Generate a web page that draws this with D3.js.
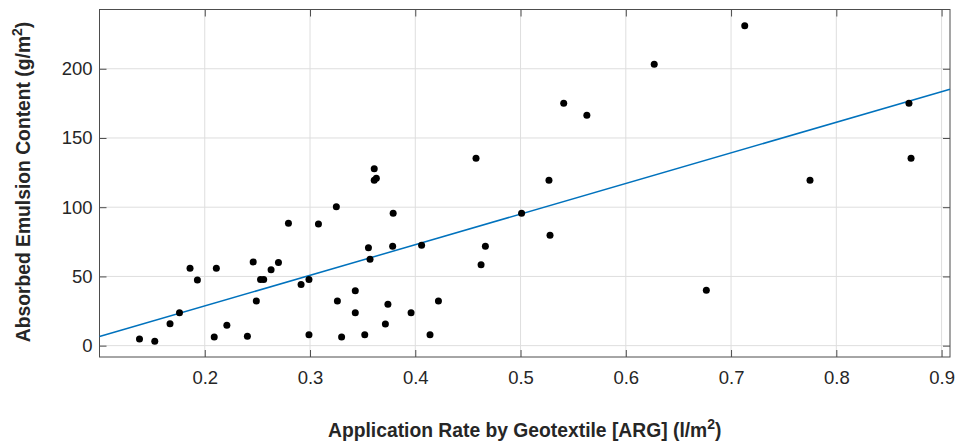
<!DOCTYPE html>
<html lang="en">
<head>
<meta charset="UTF-8">
<title>ARG scatter</title>
<style>
  body { margin: 0; background: #fff; }
  text { font-family: "Liberation Sans", Arial, sans-serif; }
  .tick-label { font-size: 18.5px; fill: #262626; }
  .axis-title { font-size: 19.3px; font-weight: bold; fill: #262626; }
</style>
</head>
<body>
<div id="chart"></div>
<script src="https://cdn.jsdelivr.net/npm/d3@7"></script>
<script>
// application rate (l/m2) and absorbed emulsion (g/m2)
let argRate = [0.138, 0.1525, 0.167, 0.176, 0.186, 0.193, 0.209, 0.211, 0.221, 0.2405,
  0.246, 0.249, 0.253, 0.256, 0.263, 0.270, 0.2795, 0.2915, 0.299, 0.299,
  0.308, 0.325, 0.326, 0.330, 0.343, 0.343, 0.352, 0.3555, 0.357, 0.361,
  0.361, 0.363, 0.3716, 0.374, 0.3785, 0.379, 0.396, 0.406, 0.414, 0.422,
  0.4577, 0.4625, 0.4666, 0.501, 0.527, 0.528, 0.541, 0.563, 0.627, 0.6765,
  0.713, 0.775, 0.869, 0.871]
let emulsion = [4.8, 3.2, 15.9, 23.8, 55.9, 47.5, 6.3, 55.9, 14.7, 6.8,
  60.5, 32.3, 47.7, 47.7, 54.9, 60.0, 88.4, 44.1, 47.7, 7.9,
  87.9, 100.4, 32.3, 6.3, 39.7, 23.8, 7.9, 70.8, 62.4, 127.7,
  119.5, 121.0, 15.7, 29.9, 71.8, 95.7, 23.8, 72.5, 7.9, 32.3,
  135.4, 58.5, 71.8, 95.7, 119.5, 79.8, 175.1, 166.5, 203.3, 40.0,
  231.0, 119.5, 175.1, 135.4]
let xTicks = [0.2, 0.3, 0.4, 0.5, 0.6, 0.7, 0.8, 0.9]
let yTicks = [0, 50, 100, 150, 200]
let xLimits = [0.1, 0.908]
let yLimits = [-8.2, 242.8]

let width = 957
let height = 444
let margin = { left: 99.5, top: 9.5, right: 7, bottom: 87 }
let innerW = width - margin.left - margin.right
let innerH = height - margin.top - margin.bottom
let boxColor = '#4d4d4d'
let gridColor = '#dedede'
let fitColor = '#0072BD'

let svg = d3.select('#chart').append('svg').attr('width', width).attr('height', height)
let g = svg.append('g').attr('transform', 'translate(' + margin.left + ',' + margin.top + ')')

let x = d3.scaleLinear().domain(xLimits).range([0, innerW])
let y = d3.scaleLinear().domain(yLimits).range([innerH, 0])

// grid
g.append('g').selectAll('line').data(xTicks).join('line')
  .attr('x1', d => x(d)).attr('x2', d => x(d)).attr('y1', 0).attr('y2', innerH)
  .attr('stroke', gridColor)
g.append('g').selectAll('line').data(yTicks).join('line')
  .attr('x1', 0).attr('x2', innerW).attr('y1', d => y(d)).attr('y2', d => y(d))
  .attr('stroke', gridColor)

// axes, ticks pointing inward on all four sides
let tickLen = 7
function styleAxis(sel) {
  sel.select('.domain').remove()
  sel.selectAll('.tick line').attr('stroke', boxColor)
  sel.selectAll('.tick text').attr('class', 'tick-label').attr('font-family', null).attr('font-size', null)
}
g.append('g').attr('transform', 'translate(0,' + innerH + ')')
  .call(d3.axisBottom(x).tickValues(xTicks).tickSizeInner(-tickLen).tickSizeOuter(0).tickPadding(14).tickFormat(d3.format('.1f')))
  .call(styleAxis)
g.append('g')
  .call(d3.axisTop(x).tickValues(xTicks).tickSizeInner(-tickLen).tickSizeOuter(0).tickFormat(''))
  .call(styleAxis)
g.append('g')
  .call(d3.axisLeft(y).tickValues(yTicks).tickSizeInner(-tickLen).tickSizeOuter(0).tickPadding(7))
  .call(styleAxis)
g.append('g').attr('transform', 'translate(' + innerW + ',0)')
  .call(d3.axisRight(y).tickValues(yTicks).tickSizeInner(-tickLen).tickSizeOuter(0).tickFormat(''))
  .call(styleAxis)

// box
g.append('rect').attr('width', innerW).attr('height', innerH)
  .attr('fill', 'none').attr('stroke', boxColor).attr('stroke-width', 1)

// least squares fit line from the data
let mx = d3.mean(argRate)
let my = d3.mean(emulsion)
let sxy = d3.sum(argRate, (v, i) => (v - mx) * (emulsion[i] - my))
let sxx = d3.sum(argRate, v => (v - mx) * (v - mx))
let slope = sxy / sxx
let intercept = my - slope * mx
let line = d3.line().x(d => x(d)).y(d => y(intercept + slope * d))
g.append('path').datum(xLimits).attr('d', line)
  .attr('fill', 'none').attr('stroke', fitColor).attr('stroke-width', 1.5)

// points
g.append('g').selectAll('circle').data(argRate).join('circle')
  .attr('cx', d => x(d)).attr('cy', (d, i) => y(emulsion[i])).attr('r', 3.5)
  .attr('fill', '#000')

// axis titles
let xt = svg.append('text').attr('class', 'axis-title')
  .attr('x', margin.left + innerW / 2).attr('y', 437).attr('text-anchor', 'middle')
xt.append('tspan').text('Application Rate by Geotextile [ARG] (l/m')
xt.append('tspan').text('2').attr('dy', -8).attr('font-size', 14)
xt.append('tspan').text(')').attr('dy', 8)

let yt = svg.append('text').attr('class', 'axis-title')
  .attr('transform', 'translate(29.5,182) rotate(-90)')
  .attr('text-anchor', 'middle')
yt.append('tspan').text('Absorbed Emulsion Content (g/m')
yt.append('tspan').text('2').attr('dy', -8).attr('font-size', 14)
yt.append('tspan').text(')').attr('dy', 8)
</script>
</body>
</html>
